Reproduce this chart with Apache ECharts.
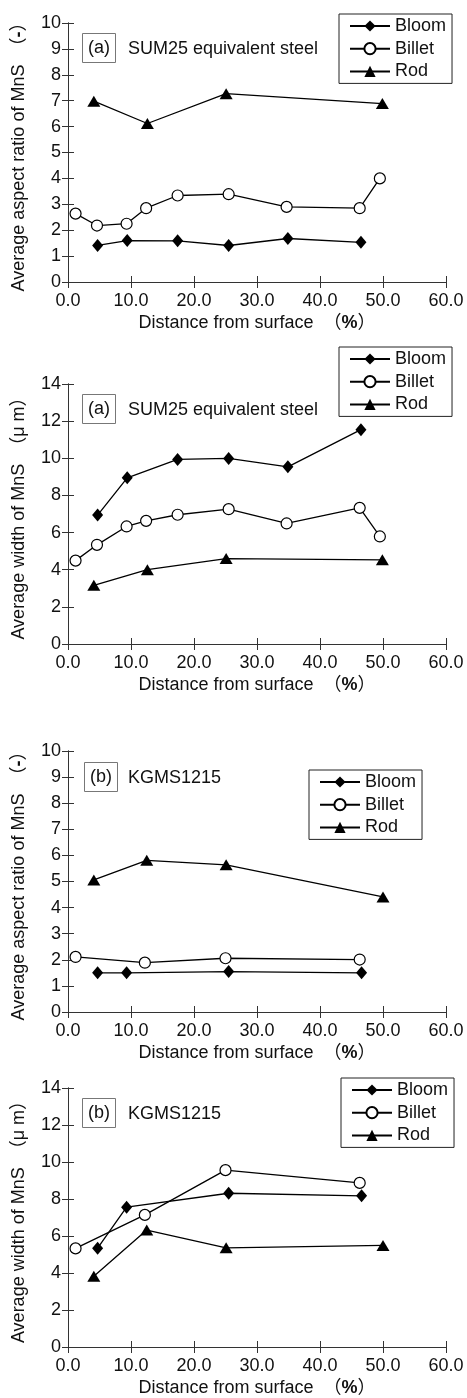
<!DOCTYPE html>
<html>
<head>
<meta charset="utf-8">
<script src="https://cdn.jsdelivr.net/npm/echarts@6/dist/echarts.min.js"></script>
<style>
  html, body { margin: 0; padding: 0; background: #fff; }
  #chart { width: 467px; height: 1398px; }
</style>
</head>
<body>
<div id="chart"></div>
<script>
// x ticks shared by all panels
const xTicks = [0, 10, 20, 30, 40, 50, 60]

// (a) SUM25 equivalent steel - distance from surface (%)
const aBloomX = [4.7, 9.4, 17.4, 25.5, 34.9, 46.5]
const aBilletX = [1.2, 4.6, 9.3, 12.4, 17.4, 25.5, 34.7, 46.3, 49.5]
const aRodX = [4.1, 12.6, 25.1, 49.9]
// aspect ratio (-)
const aBloomAspect = [1.41, 1.60, 1.59, 1.41, 1.68, 1.53]
const aBilletAspect = [2.64, 2.18, 2.25, 2.85, 3.34, 3.39, 2.90, 2.85, 4.0]
const aRodAspect = [6.98, 6.12, 7.27, 6.89]
// width (um)
const aBloomWidth = [6.94, 8.95, 9.94, 9.99, 9.54, 11.54]
const aBilletWidth = [4.49, 5.34, 6.33, 6.63, 6.96, 7.26, 6.49, 7.33, 5.79]
const aRodWidth = [3.16, 4.0, 4.6, 4.53]

// (b) KGMS1215
const bBloomX = [4.7, 9.3, 25.5, 46.6]
const bBilletX = [1.2, 12.2, 25.0, 46.3]
const bRodX = [4.1, 12.5, 25.1, 50.0]
const bBloomAspect = [1.50, 1.50, 1.55, 1.50]
const bBilletAspect = [2.11, 1.89, 2.06, 2.01]
const bRodAspect = [5.06, 5.81, 5.64, 4.41]
const bBloomWidth = [5.34, 7.56, 8.31, 8.17]
const bBilletWidth = [5.33, 7.14, 9.56, 8.87]
const bRodWidth = [3.83, 6.32, 5.36, 5.49]

const FONT = '"Liberation Sans", Arial, "Noto Sans CJK JP", sans-serif'
const INK = '#111'
const FRAME = '#333'

const pairs = (xs, ys) => xs.map((x, i) => [x, ys[i]])

// one entry per panel
const panels = [
  { top: 23, height: 259, yMax: 10, yStep: 1, yName: 'Average aspect ratio of MnS', unit: '-',
    tag: '(a)', label: 'SUM25 equivalent steel', legend: [339, 14],
    bloom: pairs(aBloomX, aBloomAspect), billet: pairs(aBilletX, aBilletAspect), rod: pairs(aRodX, aRodAspect) },
  { top: 384, height: 260, yMax: 14, yStep: 2, yName: 'Average width of MnS', unit: 'μ m',
    tag: '(a)', label: 'SUM25 equivalent steel', legend: [339, 347],
    bloom: pairs(aBloomX, aBloomWidth), billet: pairs(aBilletX, aBilletWidth), rod: pairs(aRodX, aRodWidth) },
  { top: 751, height: 261, yMax: 10, yStep: 1, yName: 'Average aspect ratio of MnS', unit: '-',
    tag: '(b)', label: 'KGMS1215', legend: [309, 770],
    bloom: pairs(bBloomX, bBloomAspect), billet: pairs(bBilletX, bBilletAspect), rod: pairs(bRodX, bRodAspect) },
  { top: 1088, height: 259, yMax: 14, yStep: 2, yName: 'Average width of MnS', unit: 'μ m',
    tag: '(b)', label: 'KGMS1215', legend: [341, 1078],
    bloom: pairs(bBloomX, bBloomWidth), billet: pairs(bBilletX, bBilletWidth), rod: pairs(bRodX, bRodWidth) }
]

const tick = { show: true, inside: true, length: 6, lineStyle: { color: FRAME } }
const line = { show: true, lineStyle: { color: FRAME, width: 1 } }

let grids = [], xMain = [], xTop = [], yMain = [], yRight = [], series = [], titles = [], legends = []

panels.forEach((p, i) => {
  grids.push({ left: 68, width: 378, top: p.top, height: p.height })

  xMain.push({
    type: 'value', gridIndex: i, position: 'bottom', min: xTicks[0], max: xTicks[xTicks.length - 1], interval: 10,
    axisLine: line, axisTick: tick, splitLine: { show: false },
    axisLabel: { margin: 10, fontSize: 18, color: INK, fontFamily: FONT, formatter: v => v.toFixed(1) },
    name: '{n|Distance from surface  （}{b|%}{n|）}', nameLocation: 'middle', nameGap: 32,
    nameTextStyle: { rich: {
      n: { fontSize: 18, color: INK, fontFamily: FONT },
      b: { fontSize: 18, color: INK, fontFamily: FONT, fontWeight: 'bold' }
    } }
  })
  xTop.push({
    type: 'value', gridIndex: i, position: 'top', min: 0, max: 60, interval: 10,
    axisLine: line, axisTick: tick, axisLabel: { show: false }, splitLine: { show: false }
  })

  yMain.push({
    type: 'value', gridIndex: i, position: 'left', min: 0, max: p.yMax, interval: p.yStep,
    axisLine: line, axisTick: tick, splitLine: { show: false },
    axisLabel: { margin: 7, fontSize: 18, color: INK, fontFamily: FONT },
    name: '{n|' + p.yName + '　（}{b|' + p.unit + '}{n|）}', nameLocation: 'middle', nameGap: 40,
    nameTextStyle: { rich: {
      n: { fontSize: 18, color: INK, fontFamily: FONT },
      b: { fontSize: 18, color: INK, fontFamily: FONT, fontWeight: p.unit === '-' ? 'bold' : 'normal' }
    } }
  })
  yRight.push({
    type: 'value', gridIndex: i, position: 'right', min: 0, max: p.yMax, interval: p.yStep,
    axisLine: line, axisTick: tick, axisLabel: { show: false }, splitLine: { show: false }
  })

  const common = { type: 'line', xAxisIndex: i, yAxisIndex: i, lineStyle: { color: '#000', width: 1.3 } }
  series.push({ ...common, name: 'Bloom', data: p.bloom, symbol: 'diamond', symbolSize: [11, 13],
    itemStyle: { color: '#000' } })
  series.push({ ...common, name: 'Billet', data: p.billet, symbol: 'circle', symbolSize: 11,
    itemStyle: { color: '#fff', borderColor: '#000', borderWidth: 1.2 } })
  series.push({ ...common, name: 'Rod', data: p.rod, symbol: 'triangle', symbolSize: [13, 11],
    itemStyle: { color: '#000' } })

  const tagTop = p.top + 10 + (i === 2 ? 1 : 0)
  titles.push({
    text: p.tag, left: i === 2 ? 84 : 82, top: tagTop, padding: [5, 6],
    borderColor: '#777', borderWidth: 1,
    textStyle: { fontSize: 18, fontWeight: 'normal', color: INK, fontFamily: FONT, lineHeight: 20 }
  })
  titles.push({
    text: p.label, left: 128, top: tagTop + 6, padding: 0,
    textStyle: { fontSize: 18, fontWeight: 'normal', color: INK, fontFamily: FONT, lineHeight: 20 }
  })

  legends.push({
    data: ['Bloom', 'Billet', 'Rod'], orient: 'vertical', left: p.legend[0], top: p.legend[1],
    padding: [3, 6, 3, 10], itemGap: 4.7, itemWidth: 40, itemHeight: 14,
    borderColor: '#222', borderWidth: 1, backgroundColor: '#fff', selectedMode: false,
    textStyle: { fontSize: 18, color: INK, fontFamily: FONT, lineHeight: 18 }
  })
})

const chart = echarts.init(document.getElementById('chart'))
chart.setOption({
  animation: false,
  backgroundColor: '#fff',
  title: titles,
  legend: legends,
  grid: grids,
  xAxis: xMain.concat(xTop),
  yAxis: yMain.concat(yRight),
  series: series
})
</script>
</body>
</html>
